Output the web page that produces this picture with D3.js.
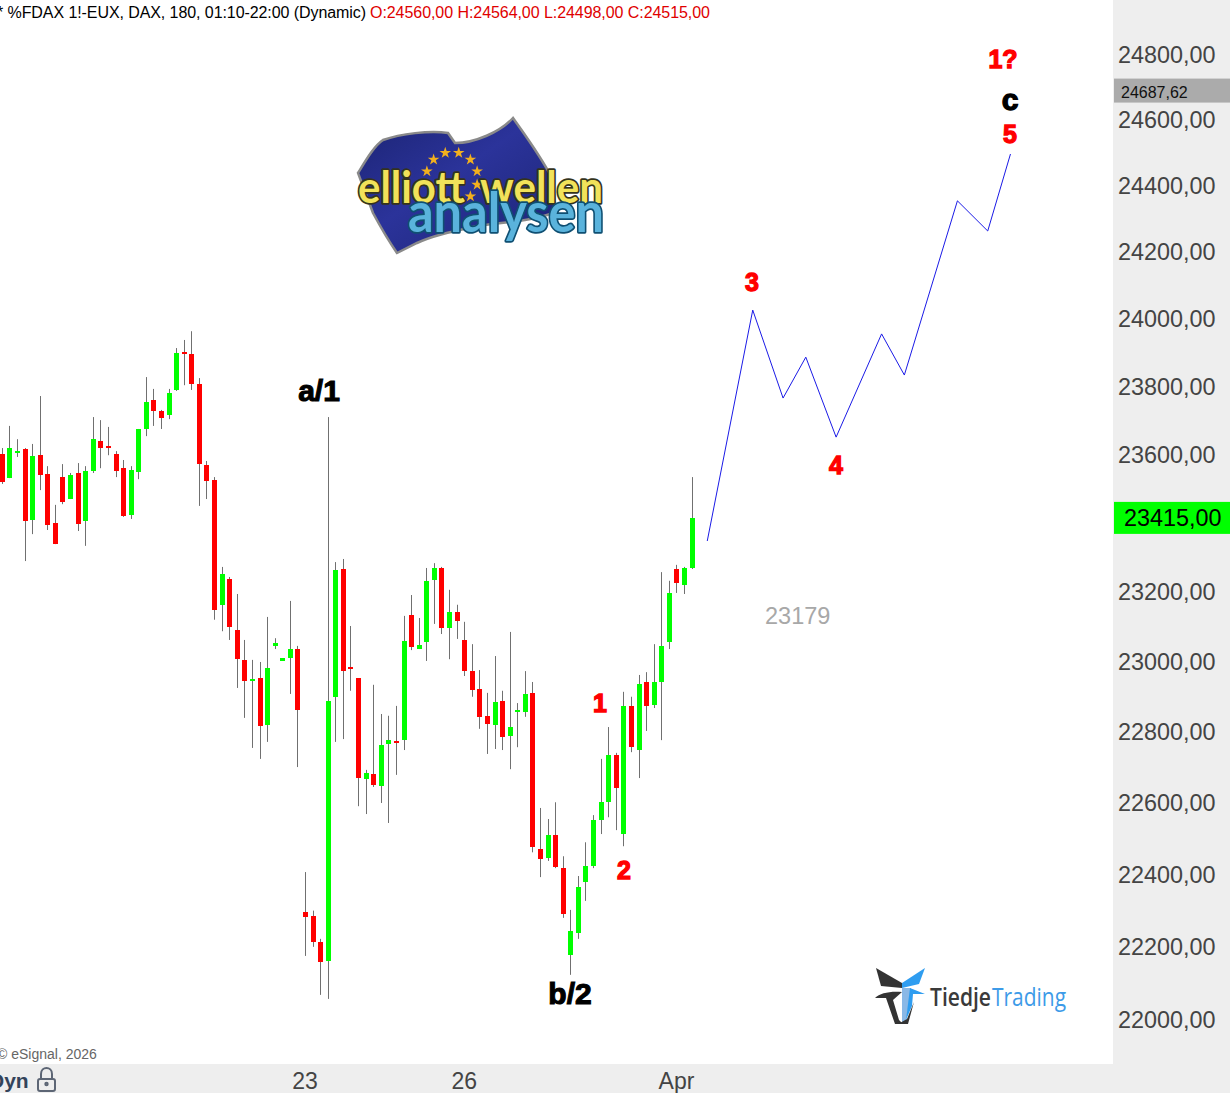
<!DOCTYPE html>
<html><head><meta charset="utf-8">
<script src="https://cdn.jsdelivr.net/npm/d3@7/dist/d3.min.js"></script>
<style>html,body{margin:0;padding:0;background:#fff;overflow:hidden}svg{display:block;font-family:"Liberation Sans",Arial,sans-serif}</style>
</head><body><svg id="c" width="1230" height="1093"></svg>
<script>
const opens=[23598,23528,23601,23613,23406,23595,23540,23397,23531,23467,23543,23403,23549,23636,23622,23598,23557,23421,23546,23672,23757,23725,23713,23787,23899,23893,23804,23566,23522,23161,23235,23088,23003,22943,22951,22818,23043,23000,23008,23034,22295,22284,22212,22160,22898,23264,22983,22951,22665,22680,22645,22764,22773,22775,23132,23034,23054,23232,23267,23094,23140,23060,22971,22920,22844,22818,22886,22787,22855,22855,22909,22469,22444,22508,22416,22176,22237,22378,22422,22550,22600,22733,22511,22872,22747,22940,22875,22940,23054,23264,23218,23267];
const highs=[23616,23681,23642,23616,23628,23769,23563,23450,23569,23543,23572,23563,23707,23698,23678,23607,23581,23563,23672,23825,23790,23728,23790,23911,23935,23961,23822,23578,23531,23270,23241,23192,23060,23003,22997,23126,23065,23008,23172,23043,22405,22298,22220,23707,23284,23293,23100,22951,22691,22932,22849,22844,22872,23129,23189,23123,23267,23281,23270,23204,23161,23112,23048,22974,22909,23014,22915,23083,22880,22971,22940,22584,22553,22600,22449,22300,22394,22488,22564,22722,22812,22739,22912,22898,22960,22968,23048,23255,23230,23276,23270,23531];
const lows=[23511,23528,23590,23287,23365,23493,23377,23336,23452,23467,23374,23331,23543,23557,23595,23531,23415,23409,23525,23651,23681,23672,23701,23784,23801,23787,23447,23467,23118,23085,23060,22923,22838,22753,22722,22770,23034,23000,22906,22699,22173,22198,22066,22055,22770,22778,22915,22589,22567,22643,22598,22542,22677,22747,23031,23034,23000,23106,23077,23005,23063,22957,22898,22807,22736,22750,22747,22693,22755,22841,22460,22391,22436,22416,22278,22121,22220,22325,22416,22511,22558,22522,22477,22741,22668,22801,22866,22775,23034,23195,23192,23264];
const closes=[23517,23616,23607,23403,23592,23537,23392,23336,23458,23537,23394,23549,23642,23616,23616,23549,23418,23552,23672,23751,23725,23704,23778,23896,23893,23804,23569,23520,23146,23250,23097,23005,22943,22949,22815,22980,23051,23008,23034,22861,22281,22212,22157,22886,23261,22971,22977,22668,22682,22648,22761,22775,22767,23057,23040,23045,23230,23267,23094,23140,23115,22971,22917,22841,22821,22883,22784,22812,22861,22906,22474,22441,22508,22419,22289,22242,22364,22422,22550,22600,22733,22640,22872,22755,22934,22872,22940,23043,23195,23224,23267,23412];
const forecastBars=[93,99,103,106,110,116,119,126,130,133];
const forecastPrices=[23345,24024,23763,23884,23648,23953,23831,24352,24261,24494];
const yTickValues=[22000,22200,22400,22600,22800,23000,23200,23600,23800,24000,24200,24400,24600,24800];
const xTickBars=[40,61,89];
const xTickLabels=["23","26","Apr"];
const lastPrice=23415, markerPrice=24687.62;
const titleText="* %FDAX 1!-EUX, DAX, 180, 01:10-22:00 (Dynamic)";
const ohlcText="O:24560,00 H:24564,00 L:24498,00 C:24515,00";
const starAngles=[-165,-135,-105,-75,-45,-15,15,45];

const W=1230,H=1093,plotR=1113,plotB=1064;
const svg=d3.select("#c");
const x=d3.scaleLinear().domain([0,91]).range([2.3,692.1]);
const y=d3.scaleLog().domain([22000,24800]).range([1019,54]);
const price=d3.format(".2f"), fmt=v=>price(v).replace(".",",");
const UP="#00ff00",DN="#ff0000",WICK="#707070";

// panels
svg.append("rect").attr("x",0).attr("y",0).attr("width",W).attr("height",H).attr("fill","#fff");
svg.append("rect").attr("x",plotR).attr("y",0).attr("width",W-plotR).attr("height",H).attr("fill","#eeeeee");
svg.append("rect").attr("x",0).attr("y",plotB).attr("width",W).attr("height",H-plotB).attr("fill","#eeeeee");

// logo: elliott wellen analysen
const defs=svg.append("defs");
const fg=defs.append("linearGradient").attr("id","flagFill").attr("x1",0).attr("y1",0).attr("x2",1).attr("y2",1);
fg.append("stop").attr("offset","0").attr("stop-color","#1c2474");
fg.append("stop").attr("offset",".45").attr("stop-color","#2b339a");
fg.append("stop").attr("offset","1").attr("stop-color","#1c2474");
const lg=svg.append("g");
lg.append("path").attr("d","M358,173 C366,160 374,146 383,140 C400,134 430,130 448,133 L455,143 C475,143 500,132 513,118 C525,135 540,155 552,178 L556,212 C530,222 500,222 473,227 C450,232 432,236 417,243 L397,253 C388,240 380,226 373,213 Z")
 .attr("fill","url(#flagFill)").attr("stroke","#8a8a8a").attr("stroke-width",2.5);
const starPath=d3.symbol().type(d3.symbolStar).size(42)();
starAngles.forEach(a=>{
  const r=a*Math.PI/180;
  lg.append("path").attr("d",starPath).attr("fill","#f2b01e")
    .attr("transform",`translate(${452+Math.cos(r)*26},${178+Math.sin(r)*26})`);
});
function logoWord(t,px,py,len,size,fill,edge){
  lg.append("text").text(t).attr("x",px).attr("y",py).attr("textLength",len).attr("lengthAdjust","spacingAndGlyphs")
    .attr("font-family","Lato,sans-serif").attr("font-size",size).attr("font-weight",700)
    .attr("fill",fill).attr("stroke",edge).attr("stroke-width",3.5).attr("stroke-linejoin","round").style("paint-order","stroke");
}
logoWord("elliott",358,203,107,44,"#f1e25a","#34331c");
logoWord("wellen",480,203,123,44,"#f1e25a","#34331c");
logoWord("analysen",408,232,196,55,"#5ab3dc","#0f4f72");

// logo: TiedjeTrading
const tg=svg.append("g");
tg.append("path").attr("d","M876,968 L902,983 L902,988 L881,986 Z").attr("fill","#333");
tg.append("path").attr("d","M925,968 L902,983 L902,988 L919,984 Z").attr("fill","#2f9df0");
tg.append("path").attr("d","M875,998 C880,993 890,991 902,992 L893,1000 L899,1020 L903,1024 L895,1024 L886,998 Z").attr("fill","#333");
tg.append("path").attr("d","M902,988 L911,988 L906,1023 L902,1023 Z").attr("fill","#8ab8e6");
tg.append("path").attr("d","M910,988 L925,994 L913,994 L912,1006 L906,1020 Z").attr("fill","#2f9df0");
tg.append("path").attr("d","M914,1002 L908,1024 L898,1024 L907,1019 Z").attr("fill","#333");
tg.append("text").text("Tiedje").attr("x",930).attr("y",1006).attr("font-family","'Open Sans',sans-serif").attr("font-weight",600)
 .attr("font-size",26).attr("fill","#3a3a3a").attr("textLength",61).attr("lengthAdjust","spacingAndGlyphs");
tg.append("text").text("Trading").attr("x",992).attr("y",1006).attr("font-family","'Open Sans',sans-serif")
 .attr("font-size",26).attr("fill","#3d9be8").attr("textLength",74).attr("lengthAdjust","spacingAndGlyphs");

// candles
const data=d3.range(opens.length);
const cand=svg.append("g");
cand.selectAll("rect.w").data(data).join("rect").attr("class","w")
 .attr("x",i=>Math.floor(x(i))).attr("width",1)
 .attr("y",i=>y(highs[i])).attr("height",i=>Math.max(0,y(lows[i])-y(highs[i]))).attr("fill",WICK);
cand.selectAll("rect.b").data(data).join("rect").attr("class","b")
 .attr("x",i=>Math.floor(x(i))-2).attr("width",5)
 .attr("y",i=>Math.round(y(Math.max(opens[i],closes[i]))))
 .attr("height",i=>Math.max(2,Math.round(y(Math.min(opens[i],closes[i])))-Math.round(y(Math.max(opens[i],closes[i])))))
 .attr("fill",i=>closes[i]>=opens[i]?UP:DN);

// forecast
svg.append("path").datum(d3.range(forecastBars.length))
 .attr("d",d3.line().x(i=>x(forecastBars[i])).y(i=>y(forecastPrices[i])))
 .attr("fill","none").attr("stroke","#1a1ae6").attr("stroke-width",1);

// header
svg.append("text").attr("x",-3).attr("y",18).attr("font-size",16).attr("fill","#000").attr("textLength",369).text(titleText);
svg.append("text").attr("x",370).attr("y",18).attr("font-size",16).attr("fill","#e00000").attr("textLength",340).text(ohlcText);

// wave labels
function wave(t,cx,cy,size,col,sw){
  svg.append("text").text(t).attr("x",cx).attr("y",cy).attr("text-anchor","middle").attr("dominant-baseline","central")
   .attr("font-size",size).attr("font-weight",700).attr("fill",col).attr("stroke",col).attr("stroke-width",sw);
}
wave("a/1",319,390,30,"#000",1.1);
wave("b/2",570,993,30,"#000",1.1);
wave("1",600,703,25,"#f00",1.3);
wave("2",624,870,25,"#f00",1.3);
wave("3",752,282,25,"#f00",1.3);
wave("4",836,465,25,"#f00",1.3);
wave("5",1010,134,25,"#f00",1.3);
wave("1?",1003,59,25,"#f00",1.3);
wave("c",1010,99,30,"#000",1.3);
svg.append("text").text("23179").attr("x",765).attr("y",624).attr("font-size",23.5).attr("fill","#a8a8a8");

// y axis
const yAxis=d3.axisRight(y).tickValues(yTickValues).tickSize(0).tickPadding(0).tickFormat(fmt);
const yg=svg.append("g").attr("transform","translate(1118,1)").call(yAxis);
yg.select(".domain").remove();
yg.selectAll("text").attr("font-size",23.4).attr("font-family","'Liberation Sans',Arial,sans-serif").attr("fill","#444");

// price markers
svg.append("rect").attr("x",1114).attr("y",y(markerPrice)-12).attr("width",116).attr("height",24).attr("fill","#ababab");
svg.append("text").attr("x",1121).attr("y",y(markerPrice)+7).attr("font-size",16).attr("fill","#111").text(fmt(markerPrice));
svg.append("rect").attr("x",1114).attr("y",y(lastPrice)-15).attr("width",116).attr("height",32).attr("fill",UP);
svg.append("text").attr("x",1124).attr("y",y(lastPrice)+9).attr("font-size",23.4).attr("fill","#000").text(fmt(lastPrice));

// x axis
const xAxis=d3.axisBottom(x).tickValues(xTickBars).tickSize(0).tickPadding(0).tickFormat((d,i)=>xTickLabels[i]);
const xg=svg.append("g").attr("transform","translate(-1,1073)").call(xAxis);
xg.select(".domain").remove();
xg.selectAll("text").attr("font-size",23).attr("font-family","'Liberation Sans',Arial,sans-serif").attr("fill","#444");

// footer
svg.append("text").attr("x",-3).attr("y",1059).attr("font-size",14).attr("fill","#666").text("© eSignal, 2026");
svg.append("text").attr("x",-11).attr("y",1088).attr("font-size",21).attr("font-weight",700).attr("fill","#33435a").text("Dyn");
const lock=svg.append("g").attr("fill","none").attr("stroke","#5d6675").attr("stroke-width",2);
lock.append("path").attr("d","M41,1079 V1074 C41,1066 52,1066 52,1074 V1079");
lock.append("rect").attr("x",38).attr("y",1079).attr("width",17).attr("height",12).attr("rx",2);
lock.append("circle").attr("cx",46.5).attr("cy",1084).attr("r",1.2);
</script></body></html>
